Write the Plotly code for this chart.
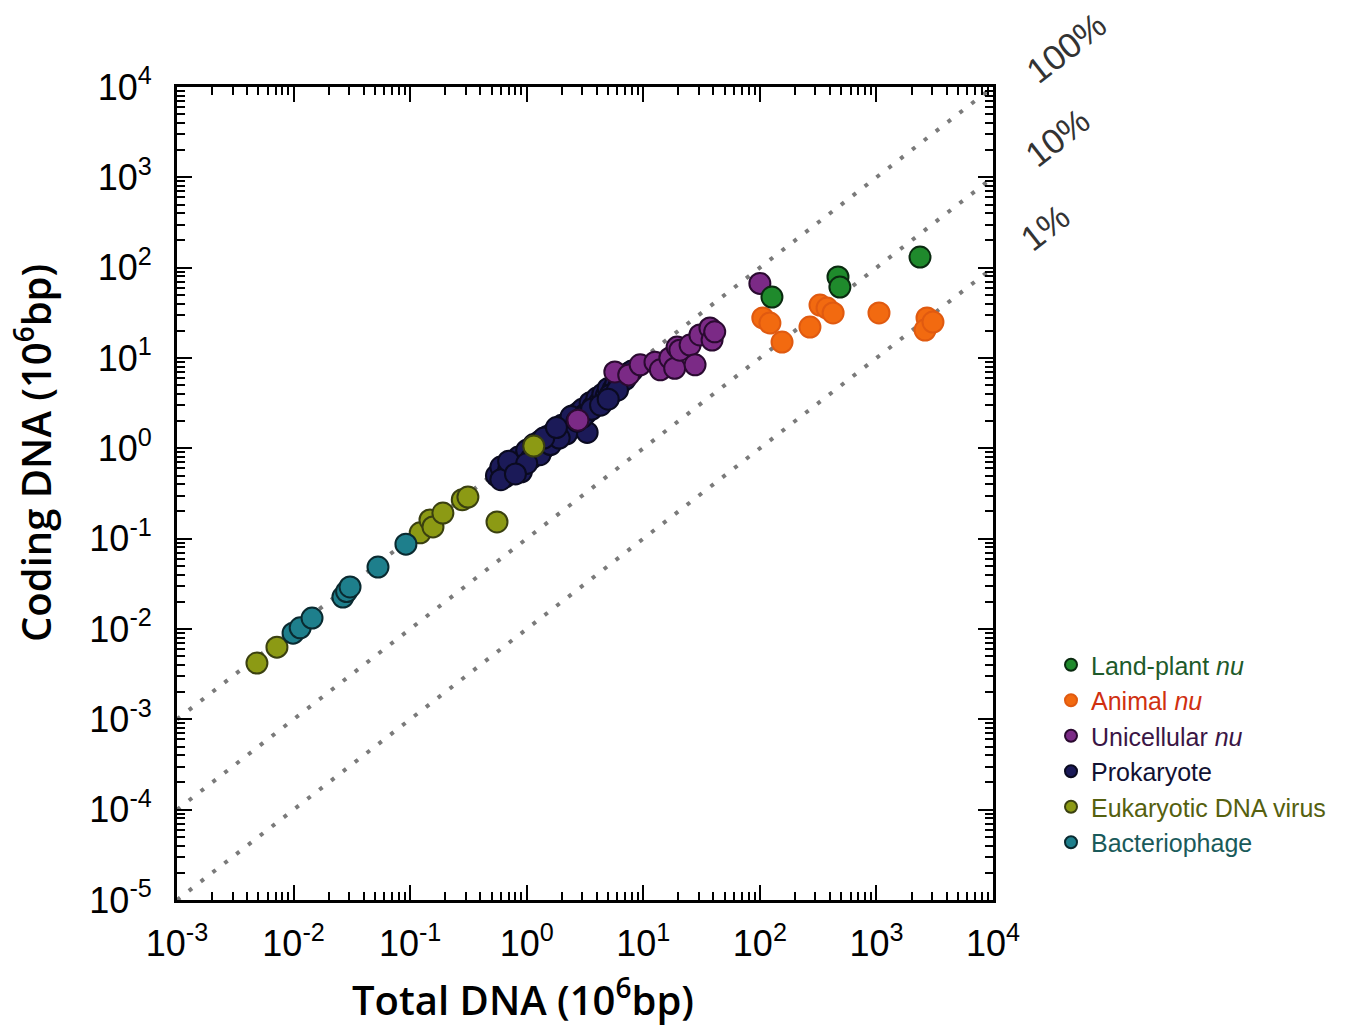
import plotly.graph_objects as go

# ---------------- data (values in 10^6 bp) ----------------
land_plant_total = [127, 468, 486, 2365]
land_plant_coding = [47.3, 78.9, 61, 131]

animal_total = [106, 122, 155, 269, 328, 377, 425, 1052, 2716, 2612, 3055]
animal_coding = [27.8, 24.4, 15.0, 22, 38.6, 35.7, 31.5, 31.5, 27.8, 20.4, 25]

unicell_total = [2.75, 5.7, 7.5, 9.4, 12.6, 14.0, 16.9, 18.6, 19.5, 20.6, 25.2, 27.8, 30.6,
                 37.3, 38.9, 41, 100]
unicell_coding = [2.05, 7.0, 6.5, 8.4, 9.0, 7.4, 10.0, 7.7, 13.2, 12.2, 13.9, 8.4, 18.0,
                  21.5, 15.8, 19.5, 67]

prok_total = [0.55, 0.60, 0.65, 0.70, 0.75, 0.80, 0.85, 0.90, 1.0, 1.0, 1.1, 1.2, 1.3, 1.4,
              1.5, 1.6, 1.7, 1.8, 2.0, 2.1, 2.3, 2.5, 2.6, 2.8, 3.0, 3.2, 3.5, 3.3, 3.7,
              4.0, 4.2, 4.5, 4.8, 5.0, 5.5, 5.8, 6.2, 6.5, 7.0, 7.5, 8.0, 0.9, 1.3, 2.2, 0.6,
              0.7, 1.0, 1.15, 1.6, 1.9, 2.4, 3.0, 3.6, 4.3, 5.2, 6.0, 0.8, 1.4, 2.7, 5.0, 1.8]
prok_coding = [0.50, 0.62, 0.48, 0.58, 0.72, 0.60, 0.80, 0.70, 0.85, 0.95, 0.78, 1.05, 1.2, 1.0,
               1.35, 1.25, 1.5, 1.4, 1.8, 1.55, 2.0, 2.3, 1.9, 2.5, 2.7, 2.4, 3.2, 1.5, 2.9,
               3.6, 3.2, 4.0, 3.8, 4.6, 4.5, 5.2, 5.0, 6.0, 5.8, 6.8, 7.2, 0.55, 0.85, 1.45, 0.45,
               0.72, 0.68, 1.1, 1.1, 1.3, 2.25, 2.2, 2.7, 3.0, 3.9, 4.4, 0.52, 1.3, 2.0, 3.5, 1.7]

euk_virus_total = [0.00485, 0.0072, 0.122, 0.148, 0.157, 0.191, 0.28, 0.313, 0.556, 1.15]
euk_virus_coding = [0.0042, 0.0063, 0.116, 0.161, 0.135, 0.192, 0.27, 0.289, 0.153, 1.06]

phage_total = [0.0099, 0.0114, 0.0144, 0.0265, 0.0285, 0.0305, 0.053, 0.092]
phage_coding = [0.0090, 0.0103, 0.0132, 0.0226, 0.026, 0.0292, 0.0485, 0.087]

ref_fractions = [1.0, 0.1, 0.01]
ref_labels = ["100%", "10%", "1%"]
line_x = [1e-3, 1e4]

decades = [-3, -2, -1, 0, 1, 2, 3, 4]
y_decades = [-5, -4, -3, -2, -1, 0, 1, 2, 3, 4]

fig = go.Figure()

# reference lines
for f in ref_fractions:
    fig.add_trace(go.Scatter(
        x=line_x, y=[v * f for v in line_x], mode="lines",
        line=dict(color="#7a7a7a", width=4, dash="4px,11px"),
        showlegend=False, hoverinfo="skip"))

series = [
    ("Prokaryote", prok_total, prok_coding, "#1b1a58", "#0a0a20", "#111133", 4),
    ("Unicellular <i>nu</i>", unicell_total, unicell_coding, "#7b2a86", "#2a0a30", "#3a1545", 3),
    ("Eukaryotic DNA virus", euk_virus_total, euk_virus_coding, "#8c9a14", "#3a4010", "#55600f", 5),
    ("Bacteriophage", phage_total, phage_coding, "#1e7f8c", "#0a2a30", "#1a5a5a", 6),
    ("Animal <i>nu</i>", animal_total, animal_coding, "#f26a10", "#e05a10", "#d03010", 2),
    ("Land-plant <i>nu</i>", land_plant_total, land_plant_coding, "#1f8a2c", "#0a2a10", "#1e5a2a", 1),
]
for name, xs, ys, fill, edge, tcol, rank in series:
    fig.add_trace(go.Scatter(
        x=xs, y=ys, mode="markers",
        name=f'<span style="color:{tcol}">{name}</span>',
        legendrank=rank, legendgroup=name,
        marker=dict(size=21, color=fill, line=dict(color=edge, width=2), opacity=1),
    ))

minor_vals = [m * 10 ** d for d in range(-5, 4) for m in range(2, 10)]

axis_common = dict(
    type="log", showgrid=False, zeroline=False,
    showline=True, linecolor="black", linewidth=3, mirror="ticks",
    ticks="inside", ticklen=15, tickwidth=2, tickcolor="black",
    tickfont=dict(family="Liberation Sans, Arial", size=36, color="black"),
    minor=dict(ticks="inside", ticklen=8, tickwidth=1.5, tickcolor="black",
               tickvals=minor_vals, showgrid=False),
    automargin=False,
)

fig.update_xaxes(
    range=[-3, 4], tickmode="array",
    tickvals=[10.0 ** d for d in decades],
    ticktext=[f"10<sup>{d}</sup>" for d in decades],
    ticklabelstandoff=10, **axis_common)
fig.update_yaxes(
    range=[-5, 4], tickmode="array",
    tickvals=[10.0 ** d for d in y_decades],
    ticktext=[f"10<sup>{d}</sup>" for d in y_decades],
    ticklabelstandoff=15, **axis_common)

# axis titles (positions relative to the plot area)
fig.add_annotation(text="Total DNA (10<sup>6</sup>bp)", xref="paper", yref="paper",
                   x=(523 - 177) / 816, y=-(998 - 900) / 813, showarrow=False,
                   xanchor="center", yanchor="middle",
                   font=dict(family="Open Sans", size=40, color="black", weight=600))
fig.add_annotation(text="Coding DNA (10<sup>6</sup>bp)", xref="paper", yref="paper",
                   x=-(177 - 33) / 816, y=(900 - 453) / 813, showarrow=False, textangle=-90,
                   xanchor="center", yanchor="middle",
                   font=dict(family="Open Sans", size=40, color="black", weight=600))

# percentage labels
label_pos = [(1066, 47), (1057, 137), (1045, 228)]
for lab, (px, py) in zip(ref_labels, label_pos):
    fig.add_annotation(text=lab, xref="paper", yref="paper",
                       x=(px - 177) / 816, y=(900 - py) / 813, showarrow=False,
                       xanchor="center", yanchor="middle", textangle=-38,
                       font=dict(family="Liberation Sans, Arial", size=35, color="#333333"))

# page body has an 8px default margin, so the figure is offset by 8px
fig.update_layout(
    width=1351, height=1020,
    margin=dict(l=169, r=366, t=79, b=128),
    plot_bgcolor="white", paper_bgcolor="white",
    legend=dict(x=(1051 - 177) / 816, y=(900 - 642) / 813, xanchor="left", yanchor="top",
                font=dict(family="Liberation Sans, Arial", size=25, color="black"),
                itemsizing="constant", tracegroupgap=0, bgcolor="rgba(0,0,0,0)"),
)

fig.write_html("out.html")
